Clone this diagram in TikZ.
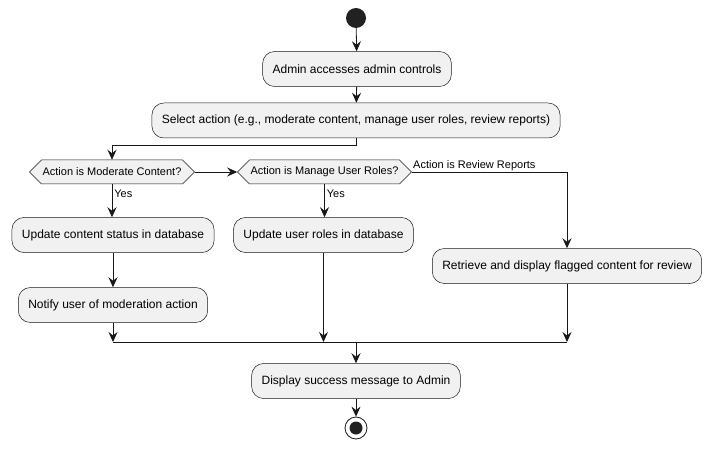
\documentclass[tikz,border=0pt]{standalone}
\usepackage{fontspec}
\setmainfont{Liberation Sans}
\usetikzlibrary{arrows.meta,shapes.symbols}
\definecolor{boxfill}{HTML}{F1F1F1}
\definecolor{boxline}{HTML}{181818}

\begin{document}
\begin{tikzpicture}[x=1pt,y=-1pt,
		actbox/.style = {draw=boxline, fill=boxfill, line width=0.5pt, rounded corners=12pt, minimum height=35pt, inner xsep=10pt, font=\fontsize{12}{14}\selectfont},
		choice/.style = {draw=boxline, fill=boxfill, line width=0.5pt, signal, signal to=west and east, signal pointer angle=90, minimum height=24pt, inner xsep=1pt, inner ysep=2pt, font=\fontsize{11}{13}\selectfont},
		flow/.style = {draw=boxline, line width=0.8pt, -{Stealth[length=10pt,width=9pt,inset=3.5pt]}},
		guard/.style = {font=\fontsize{11}{13}\selectfont, inner sep=2pt}
	]
	\useasboundingbox (0,0) rectangle (712,449);
	% start and end
	\node[circle, fill=black!87, minimum size=20pt, inner sep=0pt] (start) at (356,18) {};
	\node[circle, draw=boxline, fill=white, line width=0.8pt, minimum size=22pt, inner sep=0pt] (stop) at (356,428) {};
	\fill[black!87] (stop) circle (6.5pt);
	% actions
	\node[actbox] (admin) at (357,69) {Admin accesses admin controls};
	\node[actbox] (select) at (356,120.5) {Select action (e.g., moderate content, manage user roles, review reports)};
	\node[choice] (modq) at (112,172) {Action is Moderate Content?};
	\node[choice] (roleq) at (324.5,172) {Action is Manage User Roles?};
	\node[actbox] (content) at (113,235) {Update content status in database};
	\node[actbox] (notify) at (113,305) {Notify user of moderation action};
	\node[actbox] (roles) at (323.5,235) {Update user roles in database};
	\node[actbox] (retrieve) at (567,266) {Retrieve and display flagged content for review};
	\node[actbox] (success) at (356,381) {Display success message to Admin};
	\coordinate (merge) at (356,342);
	% connectors
	\draw[flow] (start) -- (admin);
	\draw[flow] (admin) -- (select);
	\draw[flow] (select.south) -- ++(0,7) -| (modq.north);
	\draw[flow] (modq.east) -- (roleq.west);
	\draw[flow] (modq.south) -- node[guard, pos=0.1, anchor=north west] {Yes} (content.north -| modq.south);
	\draw[flow] (roleq.south) -- node[guard, pos=0.1, anchor=north west] {Yes} (roles.north -| roleq.south);
	\draw[flow] (roleq.east) node[guard, anchor=south west, inner sep=1pt] {Action is Review Reports} -| (retrieve.north);
	\draw[flow] (content) -- (notify);
	\foreach \n in {notify,roles,retrieve}{ \draw[flow] (\n.south) -- (\n.south |- merge);}
	\draw[boxline, line width=0.8pt] (notify.south |- merge) -- (retrieve.south |- merge);
	\draw[flow] (merge) -- (success);
	\draw[flow] (success) -- (stop);
\end{tikzpicture}
\end{document}
